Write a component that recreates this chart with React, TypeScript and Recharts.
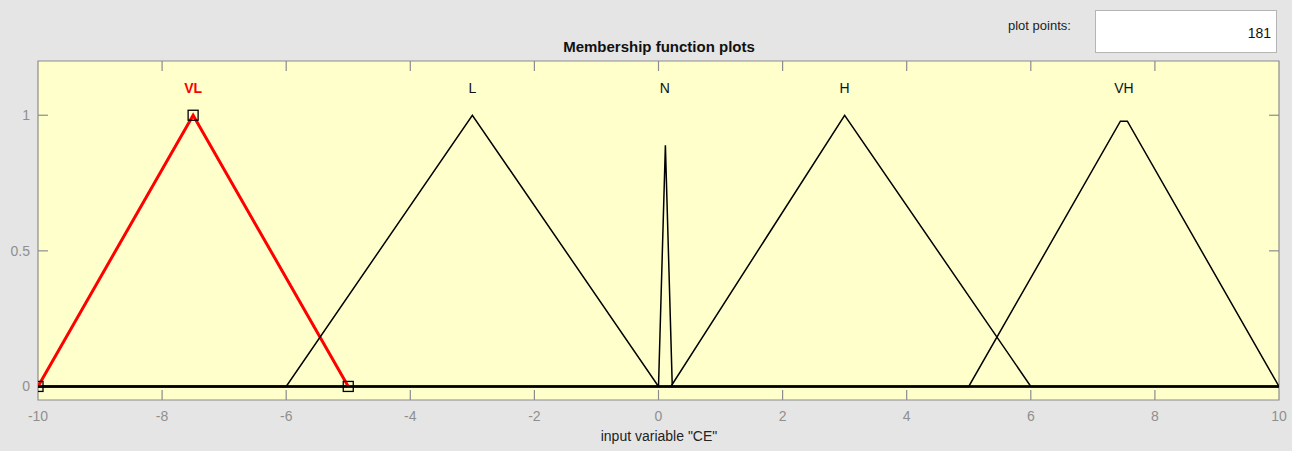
import React from 'react';
import { LineChart, Line, XAxis, YAxis, ReferenceArea, ReferenceLine, ReferenceDot } from 'recharts';

// Membership functions for input variable "CE" (breakpoints as plotted with 181 points)
const vlPoints = [
  { x: -10, y: 0 },
  { x: -7.5, y: 1 },
  { x: -5, y: 0 },
];
const lPoints = [
  { x: -10, y: 0 },
  { x: -6, y: 0 },
  { x: -3, y: 1 },
  { x: 0, y: 0 },
  { x: 10, y: 0 },
];
const nPoints = [
  { x: -10, y: 0 },
  { x: 0, y: 0 },
  { x: 0.111, y: 0.889 },
  { x: 0.222, y: 0 },
  { x: 10, y: 0 },
];
const hPoints = [
  { x: -10, y: 0 },
  { x: 0.2, y: 0 },
  { x: 3, y: 1 },
  { x: 6, y: 0 },
  { x: 10, y: 0 },
];
const vhPoints = [
  { x: -10, y: 0 },
  { x: 5, y: 0 },
  { x: 7.444, y: 0.978 },
  { x: 7.556, y: 0.978 },
  { x: 10, y: 0 },
];

const mfNames = ['VL', 'L', 'N', 'H', 'VH'];
const mfLabelX = [-7.5, -3, 0.1, 3, 7.5];
const mfLabelY = 1.1;

const xTicks = [-10, -8, -6, -4, -2, 0, 2, 4, 6, 8, 10];
const yTicks = [0, 0.5, 1];
const xDomain = [-10, 10];
const yDomain = [-0.05, 1.2];

const titleText = 'Membership function plots';
const xLabelText = 'input variable "CE"';
const plotPointsLabel = 'plot points:';
const plotPointsValue = '181';

const FONT = 'Helvetica, Arial, "Liberation Sans", sans-serif';
const GRAY_TEXT = '#8f8f8f';
const BORDER = '#8c8c8c';

const Square = (props: any) => {
  const { cx, cy, index } = props;
  if (cx == null || cy == null) return <g key={`sq-${index}`} />;
  return (
    <rect
      key={`sq-${index}`}
      x={cx - 5}
      y={cy - 5}
      width={10}
      height={10}
      fill="none"
      stroke="#000"
      strokeWidth={1.3}
    />
  );
};

const xTickLen = 0.16; // in x units (~10px)
const yTickLen = 0.037; // in y units (~10px)

export default function App() {
  return (
    <div
      style={{
        position: 'absolute',
        left: 0,
        top: 0,
        width: 1296,
        height: 451,
        background: '#ffffff',
        fontFamily: FONT,
      }}
    >
      <div style={{ position: 'absolute', left: 0, top: 0, width: 1292, height: 451, background: '#e5e5e5' }} />
      <div
        style={{
          position: 'absolute',
          left: 1008,
          top: 18,
          fontSize: 13,
          color: '#222',
        }}
      >
        {plotPointsLabel}
      </div>
      <div
        style={{
          position: 'absolute',
          left: 1095,
          top: 10,
          width: 182,
          height: 43,
          background: '#fff',
          border: '1px solid #b5b5b5',
          boxSizing: 'border-box',
          fontSize: 14,
          color: '#111',
          textAlign: 'right',
          paddingRight: 5,
          lineHeight: '44px',
        }}
      >
        {plotPointsValue}
      </div>
      <div
        style={{
          position: 'absolute',
          left: 0,
          top: 38,
          width: 1318,
          textAlign: 'center',
          fontSize: 15,
          fontWeight: 'bold',
          color: '#111',
        }}
      >
        {titleText}
      </div>
      <div
        style={{
          position: 'absolute',
          left: 0,
          top: 428,
          width: 1318,
          textAlign: 'center',
          fontSize: 14,
          color: '#222',
        }}
      >
        {xLabelText}
      </div>
      <div style={{ position: 'absolute', left: 0, top: 0 }}>
        <LineChart width={1296} height={451} margin={{ top: 61, right: 17, left: 18, bottom: 21 }}>
          <XAxis
            type="number"
            dataKey="x"
            domain={xDomain}
            ticks={xTicks}
            allowDataOverflow
            axisLine={false}
            tickLine={false}
            tickSize={6}
            tickMargin={5}
            height={30}
            tick={{ fill: GRAY_TEXT, fontSize: 14, fontFamily: FONT }}
          />
          <YAxis
            type="number"
            dataKey="y"
            domain={yDomain}
            ticks={yTicks}
            allowDataOverflow
            axisLine={false}
            tickLine={false}
            width={20}
            tickSize={6}
            tickMargin={2}
            tick={{ fill: GRAY_TEXT, fontSize: 14, fontFamily: FONT }}
          />
          <ReferenceArea
            x1={xDomain[0]}
            x2={xDomain[1]}
            y1={yDomain[0]}
            y2={yDomain[1]}
            fill="#ffffcc"
            fillOpacity={1}
            stroke={BORDER}
            strokeWidth={1.2}
          />
          {xTicks.slice(1, -1).map((t) => (
            <ReferenceLine
              key={`bt-${t}`}
              segment={[
                { x: t, y: yDomain[0] },
                { x: t, y: yDomain[0] + yTickLen },
              ]}
              stroke={BORDER}
              strokeWidth={1.2}
            />
          ))}
          {xTicks.slice(1, -1).map((t) => (
            <ReferenceLine
              key={`tt-${t}`}
              segment={[
                { x: t, y: yDomain[1] },
                { x: t, y: yDomain[1] - yTickLen },
              ]}
              stroke={BORDER}
              strokeWidth={1.2}
            />
          ))}
          {yTicks.map((t) => (
            <ReferenceLine
              key={`lt-${t}`}
              segment={[
                { x: xDomain[0], y: t },
                { x: xDomain[0] + xTickLen, y: t },
              ]}
              stroke={BORDER}
              strokeWidth={1.2}
            />
          ))}
          {yTicks.map((t) => (
            <ReferenceLine
              key={`rt-${t}`}
              segment={[
                { x: xDomain[1], y: t },
                { x: xDomain[1] - xTickLen, y: t },
              ]}
              stroke={BORDER}
              strokeWidth={1.2}
            />
          ))}
          <ReferenceLine y={0} stroke="#000" strokeWidth={2.4} />
          <Line
            data={vlPoints}
            dataKey="y"
            type="linear"
            stroke="#ff0000"
            strokeWidth={3}
            dot={false}
            isAnimationActive={false}
          />
          <Line data={lPoints} dataKey="y" type="linear" stroke="#000" strokeWidth={1.5} dot={false} isAnimationActive={false} />
          <Line data={nPoints} dataKey="y" type="linear" stroke="#000" strokeWidth={1.5} dot={false} isAnimationActive={false} />
          <Line data={hPoints} dataKey="y" type="linear" stroke="#000" strokeWidth={1.5} dot={false} isAnimationActive={false} />
          <Line data={vhPoints} dataKey="y" type="linear" stroke="#000" strokeWidth={1.5} dot={false} isAnimationActive={false} />
          <Line
            data={vlPoints}
            dataKey="y"
            type="linear"
            stroke="none"
            dot={<Square />}
            isAnimationActive={false}
          />
          {mfNames.map((name, i) => (
            <ReferenceDot
              key={`lbl-${name}`}
              x={mfLabelX[i]}
              y={mfLabelY}
              r={0}
              fill="none"
              stroke="none"
              label={{
                value: name,
                position: 'center',
                fill: i === 0 ? '#ff0000' : '#111',
                fontSize: 14,
                fontWeight: i === 0 ? 'bold' : 'normal',
                fontFamily: FONT,
              }}
            />
          ))}
        </LineChart>
      </div>
    </div>
  );
}
